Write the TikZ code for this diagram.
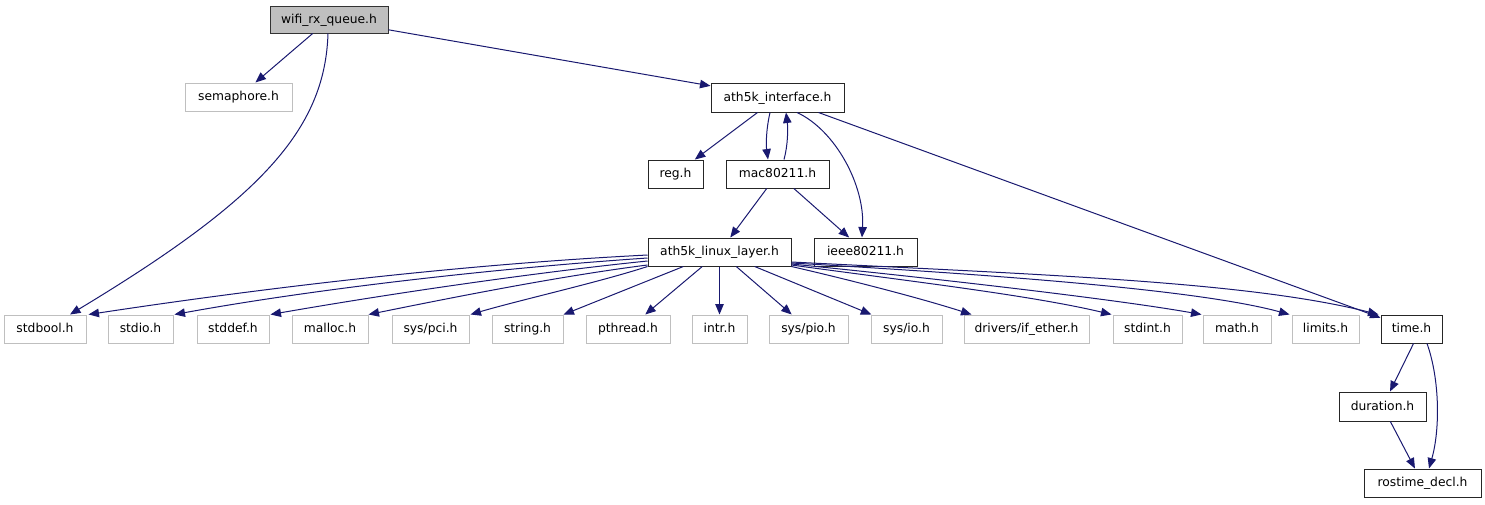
\documentclass[tikz,border=0pt]{standalone}
\usepackage{fontspec}
\setmainfont{DejaVu Sans}
\usetikzlibrary{arrows.meta}
\definecolor{navy}{HTML}{191970}
\definecolor{lgray}{HTML}{BFBFBF}
\begin{document}
\begin{tikzpicture}[x=1pt,y=-1pt,
  font=\fontsize{12.3}{14}\selectfont,
  box/.style={draw=black!85,line width=1pt,fill=white,inner sep=0pt,minimum height=28pt,text height=9.5pt,text depth=2.5pt},
  gbox/.style={box,draw=lgray},
  root/.style={box,fill=lgray,draw=black!80},
  dep/.style={draw=navy,line width=1pt,-{Triangle[length=10.5pt,width=8.5pt]}}]
\useasboundingbox (0,0) rectangle (1485,504);
% nodes
\node[root,minimum width=118pt,minimum height=27pt] (wifi) at (329,19.5) {wifi\_rx\_queue.h};
\node[gbox,minimum width=107pt] (sem) at (238.5,97) {semaphore.h};
\node[box,minimum width=133pt,minimum height=29pt] (iface) at (777.5,97.5) {ath5k\_interface.h};
\node[box,minimum width=55pt] (reg) at (675.5,174) {reg.h};
\node[box,minimum width=103pt] (mac) at (777.5,174) {mac80211.h};
\node[box,minimum width=143pt] (linux) at (719.5,252) {ath5k\_linux\_layer.h};
\node[box,minimum width=103pt] (ieee) at (865.5,252) {ieee80211.h};
\node[gbox,minimum width=82pt] (stdbool) at (45,329) {stdbool.h};
\node[gbox,minimum width=65pt] (stdio) at (140.5,329) {stdio.h};
\node[gbox,minimum width=72pt] (stddef) at (233,329) {stddef.h};
\node[gbox,minimum width=76pt] (malloc) at (330,329) {malloc.h};
\node[gbox,minimum width=77pt] (syspci) at (430.5,329) {sys/pci.h};
\node[gbox,minimum width=71pt] (string) at (527.5,329) {string.h};
\node[gbox,minimum width=84pt] (pthread) at (628,329) {pthread.h};
\node[gbox,minimum width=55pt] (intr) at (719.5,329) {intr.h};
\node[gbox,minimum width=79pt] (syspio) at (808.5,329) {sys/pio.h};
\node[gbox,minimum width=71pt] (sysio) at (906.5,329) {sys/io.h};
\node[gbox,minimum width=125pt] (ifether) at (1026.5,329) {drivers/if\_ether.h};
\node[gbox,minimum width=69pt] (stdint) at (1147.5,329) {stdint.h};
\node[gbox,minimum width=68pt] (math) at (1237,329) {math.h};
\node[gbox,minimum width=67pt] (limits) at (1325.5,329) {limits.h};
\node[box,minimum width=61pt] (time) at (1411.5,329) {time.h};
\node[box,minimum width=87pt,minimum height=29pt] (duration) at (1382.5,406.5) {duration.h};
\node[box,minimum width=117pt] (rostime) at (1422.5,483) {rostime\_decl.h};
% edges from wifi
\draw[dep] (wifi) -- (sem);
\draw[dep] ([xshift=-1pt]wifi.south) .. controls (325,130) and (260,200) .. ([xshift=25pt]stdbool.north);
\draw[dep] (wifi) -- (iface);
% edges from ath5k_interface
\draw[dep] (iface) -- (reg);
\draw[dep] ([xshift=-7.5pt]iface.south) .. controls (766,130) and (766,145) .. ([xshift=-9.5pt]mac.north);
\draw[dep] ([xshift=6.5pt]mac.north) .. controls (788,145) and (788,128) .. ([xshift=8.5pt]iface.south);
\draw[dep] ([xshift=19.5pt]iface.south) .. controls (835,130) and (865,185) .. ([xshift=-3.5pt]ieee.north);
\draw[dep] (iface) -- (time);
% edges from mac80211
\draw[dep] (mac) -- (linux);
\draw[dep] (mac) -- (ieee);
% edges from ath5k_linux_layer
\draw[dep] ([yshift=-3pt]linux.west) .. controls (450,265) and (250,290) .. ([xshift=2pt]stdbool.north east);
\draw[dep] ([yshift=-6pt]linux.west) .. controls (500,268) and (320,288) .. ([xshift=1pt]stdio.north east);
\draw[dep] ([yshift=-9pt]linux.west) .. controls (540,272) and (400,292) .. ([xshift=1pt]stddef.north east);
\draw[dep] ([yshift=-13pt]linux.west) .. controls (560,276) and (450,298) .. (malloc.north east);
\draw[dep] (linux.south west) .. controls (600,282) and (520,300) .. ([xshift=1pt]syspci.north east);
\draw[dep] (linux) -- (string);
\draw[dep] (linux) -- (pthread);
\draw[dep] (linux) -- (intr);
\draw[dep] (linux) -- (syspio);
\draw[dep] (linux) -- (sysio);
\draw[dep] (linux.south east) .. controls (850,280) and (920,298) .. ([xshift=8pt]ifether.north west);
\draw[dep] ([yshift=-13pt]linux.east) .. controls (900,280) and (1030,295) .. ([xshift=-1pt]stdint.north west);
\draw[dep] ([yshift=-12pt]linux.east) .. controls (950,280) and (1120,300) .. ([xshift=-1pt]math.north west);
\draw[dep] ([yshift=-11pt]linux.east) .. controls (1000,275) and (1200,290) .. ([xshift=-2pt]limits.north west);
\draw[dep] ([yshift=-10pt]linux.east) .. controls (1050,275) and (1250,282) .. ([xshift=-2pt]time.north west);
% edges from time.h
\draw[dep] ([xshift=2pt]time.south) -- ([xshift=7.5pt]duration.north);
\draw[dep] ([xshift=15.5pt]time.south) .. controls (1440,380) and (1440,430) .. ([xshift=6.5pt]rostime.north);
\draw[dep] (duration) -- (rostime);
\end{tikzpicture}
\end{document}
